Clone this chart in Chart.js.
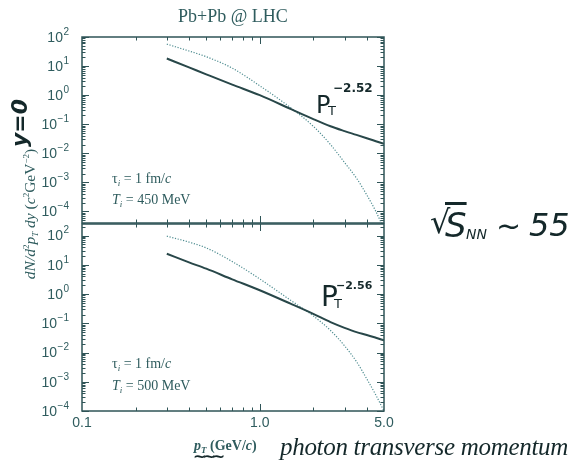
<!DOCTYPE html>
<html>
<head>
<meta charset="utf-8">
<script src="https://cdn.jsdelivr.net/npm/chart.js@4.4.1/dist/chart.umd.min.js"></script>
<style>
  body { margin: 0; background: #fff; }
  #wrap { position: relative; width: 571px; height: 468px; overflow: hidden; background: #fff; }
  #wrap canvas { position: absolute; left: 0; top: 0; }
  .t { position: absolute; white-space: nowrap; line-height: 1; color: #2f5c5e; font-family: "Liberation Serif", serif; }
  .hand { position: absolute; white-space: nowrap; line-height: 1; color: #14282a; font-family: "DejaVu Sans", sans-serif; }
  .sb { font-size: 9px; position: relative; top: 3px; }
  .sp { font-size: 9px; position: relative; top: -6px; }
  .rot { transform: translate(-50%, -50%) rotate(-90deg); }
</style>
</head>
<body>
<div id="wrap">
  <canvas id="topChart" width="571" height="468"></canvas>
  <canvas id="bottomChart" width="571" height="468"></canvas>

  <div class="t" style="left:178px; top:7px; font-size:18px;">Pb+Pb @ LHC</div>

  <div class="t" style="left:112px; top:172px; font-size:14px;">τ<span class="sb"><i>i</i></span> = 1 fm/<i>c</i></div>
  <div class="t" style="left:112px; top:193px; font-size:14px;"><i>T</i><span class="sb"><i>i</i></span> = 450 MeV</div>
  <div class="t" style="left:112px; top:357px; font-size:14px;">τ<span class="sb"><i>i</i></span> = 1 fm/<i>c</i></div>
  <div class="t" style="left:112px; top:379px; font-size:14px;"><i>T</i><span class="sb"><i>i</i></span> = 500 MeV</div>

  <div class="t rot" style="left:30px; top:214px; font-size:15.5px;"><i>dN/d</i><span class="sp">2</span><i>p</i><span class="sb"><i>T</i></span><i> dy</i> (<i>c</i><span class="sp">2</span>GeV<span class="sp">−2</span>)</div>
  <div class="hand rot" style="left:20px; top:123px; font-size:22px; font-weight:bold; font-style:italic;">y=0</div>

  <div class="t" style="left:194px; top:439px; font-size:14px; font-weight:bold;"><i>p</i><span class="sb"><i>T</i></span> (GeV/<i>c</i>)</div>
  <div class="hand" style="left:193px; top:449px; font-size:16px; font-weight:bold; letter-spacing:-4px;">~~~</div>

  <div class="hand" style="left:316px; top:93px; font-size:24px;">P</div>
  <div class="hand" style="left:328px; top:104px; font-size:13px;">T</div>
  <div class="hand" style="left:333px; top:82px; font-size:12px; font-weight:bold;">−2.52</div>

  <div class="hand" style="left:321px; top:283px; font-size:28px;">P</div>
  <div class="hand" style="left:334px; top:297px; font-size:13px;">T</div>
  <div class="hand" style="left:336px; top:280px; font-size:11px; font-weight:bold;">−2.56</div>

  <div class="hand" style="left:430px; top:206px; font-size:32px;">√</div>
  <div class="hand" style="left:445px; top:208px; font-size:34px; font-style:italic; text-decoration:overline;">S</div>
  <div class="hand" style="left:466px; top:227px; font-size:14px; font-style:italic;">NN</div>
  <div class="hand" style="left:496px; top:211px; font-size:30px;">~</div>
  <div class="hand" style="left:529px; top:209px; font-size:32px; font-style:italic;">55</div>

  <div class="hand" style="left:280px; top:434px; font-size:25px; letter-spacing:-0.3px; font-family:'Liberation Serif', serif; font-style:italic;">photon transverse momentum</div>
</div>

<script>
const pt = [0.3, 0.4, 0.5, 0.7, 1.0, 1.5, 2.0, 2.5, 3.0, 3.5, 4.0, 4.5, 5.0];
const solid450 = [18.2, 9.0, 5.2, 2.3, 1.0, 0.33, 0.15, 0.085, 0.058, 0.043, 0.033, 0.026, 0.021];
const dotted450 = [57, 33, 21, 8.5, 2.1, 0.36, 0.085, 0.02, 0.0048, 0.0014, 0.00037, 0.0001, 0.000025];
const solid500 = [24, 12.2, 7.4, 3.2, 1.35, 0.46, 0.21, 0.11, 0.07, 0.05, 0.04, 0.032, 0.026];
const dotted500 = [96, 60, 38, 13, 3.3, 0.60, 0.18, 0.057, 0.017, 0.0049, 0.00126, 0.00035, 0.0001];
const yDecades = [1e-4, 1e-3, 1e-2, 1e-1, 1, 10, 100];
const xTickValues = [0.1, 1.0, 5.0];
const xTickLabels = ['0.1', '1.0', '5.0'];

const frameColour = '#2f5457';
const textColour = '#2f5c5e';

function points(ys) {
  return pt.map((x, i) => ({x: x, y: ys[i]}));
}

// frame with inside ticks on all four sides, plus 10^n labels
const framePlugin = {
  id: 'frame',
  afterDraw(chart) {
    const {ctx, chartArea: a, scales} = chart;
    ctx.save();
    ctx.strokeStyle = frameColour;
    ctx.lineWidth = 1.5;
    ctx.strokeRect(a.left, a.top, a.right - a.left, a.bottom - a.top);
    ctx.lineWidth = 1;
    ctx.beginPath();
    for (let d = -5; d <= 2; d++) {
      for (let m = 1; m <= 9; m++) {
        const v = m * Math.pow(10, d);
        if (v < scales.y.min || v > scales.y.max) continue;
        const y = Math.round(scales.y.getPixelForValue(v)) + 0.5;
        const len = m === 1 ? 7 : 3.5;
        ctx.moveTo(a.left, y); ctx.lineTo(a.left + len, y);
        ctx.moveTo(a.right, y); ctx.lineTo(a.right - len, y);
      }
    }
    for (let d = -1; d <= 0; d++) {
      for (let m = 1; m <= 9; m++) {
        const v = m * Math.pow(10, d);
        if (v <= scales.x.min || v >= scales.x.max) continue;
        const x = Math.round(scales.x.getPixelForValue(v)) + 0.5;
        const len = m === 1 ? 7 : 3.5;
        ctx.moveTo(x, a.top); ctx.lineTo(x, a.top + len);
        ctx.moveTo(x, a.bottom); ctx.lineTo(x, a.bottom - len);
      }
    }
    ctx.stroke();

    ctx.fillStyle = textColour;
    ctx.textBaseline = 'middle';
    scales.y.ticks.forEach(t => {
      const y = scales.y.getPixelForValue(t.value);
      const exp = String(Math.round(Math.log10(t.value))).replace('-', '−');
      ctx.font = '10px "Liberation Sans"';
      const w = ctx.measureText(exp).width;
      const right = a.left - 13;
      ctx.textAlign = 'left';
      ctx.fillText(exp, right - w, y - 5);
      ctx.font = '14px "Liberation Sans"';
      ctx.textAlign = 'right';
      ctx.fillText('10', right - w - 0.5, y + 1);
    });
    ctx.restore();
  }
};

function makeChart(id, solid, dotted, yMin, yMax, padTop, padBottom, showX) {
  return new Chart(document.getElementById(id), {
    type: 'line',
    data: {
      datasets: [{
        data: points(solid),
        borderColor: '#284749',
        borderWidth: 2,
        pointRadius: 0,
        cubicInterpolationMode: 'monotone'
      }, {
        data: points(dotted),
        borderColor: '#4f8d91',
        borderWidth: 1.2,
        borderDash: [1.2, 1.6],
        pointRadius: 0,
        cubicInterpolationMode: 'monotone'
      }]
    },
    options: {
      responsive: false,
      animation: false,
      devicePixelRatio: 1,
      events: [],
      layout: {padding: {top: padTop, right: 187, bottom: padBottom, left: 0}},
      plugins: {legend: {display: false}, tooltip: {enabled: false}},
      scales: {
        x: {
          type: 'logarithmic',
          min: 0.1,
          max: 5.0,
          grid: {display: false, drawTicks: false},
          border: {display: false},
          afterBuildTicks: scale => { scale.ticks = xTickValues.map(v => ({value: v})); },
          afterFit: scale => { scale.height = showX ? 30 : 0; },
          ticks: {
            display: showX,
            autoSkip: false,
            maxRotation: 0,
            padding: 4,
            color: textColour,
            font: {family: 'Liberation Sans', size: 14},
            callback: (v, i) => xTickLabels[i]
          }
        },
        y: {
          type: 'logarithmic',
          min: yMin,
          max: yMax,
          grid: {display: false, drawTicks: false},
          border: {display: false},
          afterBuildTicks: scale => { scale.ticks = yDecades.map(v => ({value: v})); },
          afterFit: scale => { scale.width = 82; },
          ticks: {display: false}
        }
      }
    },
    plugins: [framePlugin]
  });
}

makeChart('topChart', solid450, dotted450, 4e-5, 100, 37, 245, false);
makeChart('bottomChart', solid500, dotted500, 1e-4, 250, 224, 27, true);
</script>
</body>
</html>
